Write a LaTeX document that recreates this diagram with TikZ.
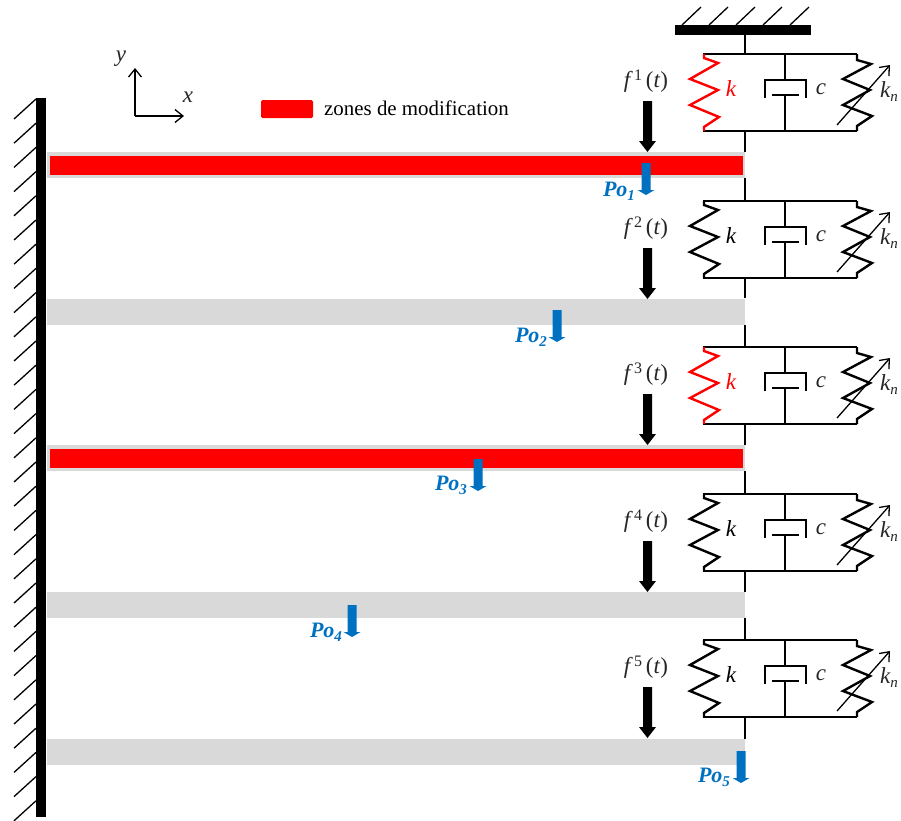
\documentclass[tikz,border=0pt]{standalone}
\usepackage{fontspec}
\setmainfont{Liberation Serif}
\usetikzlibrary{arrows.meta}
\definecolor{beamgrey}{HTML}{D9D9D9}
\definecolor{poblue}{HTML}{0070C0}
\tikzset{
  x=1pt,y=-1pt,
  beam/.style={fill=beamgrey,draw=none},
  zone/.style={fill=red,draw=none},
  wire/.style={draw=black,line width=2.4pt,line join=miter},
  hatch/.style={draw=black,line width=1.3pt},
  thinarrow/.style={draw=black,line width=1.3pt,-{Straight Barb[length=8pt,width=13pt,line width=1.3pt]}},
  mathlab/.style={font=\fontsize{23}{23}\selectfont\itshape,inner sep=0pt,text=black!85},
  polab/.style={font=\fontsize{22}{22}\selectfont\bfseries\itshape,inner sep=0pt,text=poblue},
}
\newcommand{\forcearrow}[3]{%
  \fill[#3] (#1-4.5,#2) -- (#1+4.5,#2) -- (#1+4.5,#2+40) -- (#1+8.5,#2+40) -- (#1,#2+51) -- (#1-8.5,#2+40) -- (#1-4.5,#2+40) -- cycle;}
\newcommand{\poarrow}[2]{%
  \fill[poblue] (#1-4.5,#2) -- (#1+4.5,#2) -- (#1+4.5,#2+27) -- (#1+8.5,#2+27) -- (#1,#2+32) -- (#1-8.5,#2+27) -- (#1-4.5,#2+27) -- cycle;}
\newcommand{\lowidx}[2]{\raisebox{-#2}{\fontsize{15}{15}\selectfont #1}}
\newcommand{\highidx}[1]{\raisebox{7pt}{\fontsize{16}{16}\selectfont\upshape #1}}
\begin{document}
\begin{tikzpicture}
\useasboundingbox (0,0) rectangle (901,820);
% beams
\foreach \n/\y in {1/152,2/298.5,3/445,4/592,5/739}{
  \fill[beam] (47,\y) rectangle (745,\y+26);
}
\fill[zone] (49.5,155.5) rectangle (743,174.5);
\fill[zone] (49.5,448.5) rectangle (743,467.5);
% left wall
\fill[black] (36,98) rectangle (46,817);
\foreach \i in {0,...,29}{
  \draw[hatch] (36,99+24.2*\i) -- (14,119+24.2*\i);
}
% top support
\fill[black] (675,25) rectangle (811,35);
\foreach \i in {0,...,4}{
  \draw[hatch] (682+27*\i,25) -- (701+27*\i,7);
}
\coordinate (anchor) at (745,35);
% axes
\coordinate (origin) at (135,116);
\coordinate (xend) at (184,116);
\coordinate (yend) at (135,68);
\draw[thinarrow] (origin) -- (xend);
\draw[thinarrow] (origin) -- (yend);
\node[mathlab] (xlab) at (188,97) {x};
\node[mathlab] (ylab) at (121,59) {y};
% legend
\fill[zone,rounded corners=1.5pt] (261,100) rectangle (313,118);
\node[anchor=west,inner sep=0pt,font=\fontsize{20.9}{20.9}\selectfont] (legend) at (324,108) {zones de modification};
% spring-damper units
\foreach \n/\o/\kc in {1/0/red,2/147/black,3/293/red,4/440/black,5/586/black}{
  \begin{scope}[yshift=-\o pt]
    \coordinate (t\n) at (745,54);
    \coordinate (b\n) at (745,131);
    \draw[wire] (703,54) -- (857,54);
    \draw[wire] (703,131) -- (857,131);
    % linear spring
    \draw[wire,draw=\kc] (704,54) -- (704,58) -- (718,63) -- (690,79) -- (718,90) -- (690,105) -- (719,117) -- (704,127) -- (704,131);
    \node[mathlab,text=\kc] (k\n) at (731,89) {k};
    % damper
    \draw[wire] (785,54) -- (785,80);
    \draw[wire] (765,98) -- (765,80) -- (806,80) -- (806,98);
    \draw[wire] (772,95) -- (799,95);
    \draw[wire] (785,95) -- (785,131);
    \node[mathlab] (c\n) at (821,89) {c};
    % nonlinear spring
    \draw[wire] (857,54) -- (857,60) -- (871,64) -- (843,79) -- (870,90) -- (843,105) -- (872,116) -- (857,126) -- (857,131);
    \draw[thinarrow] (837,125) -- (890,65);
    \node[mathlab] (kn\n) at (889,92) {k\lowidx{n}{4pt}};
    % force
    \forcearrow{647.5}{101}{black}
    \node[mathlab] (f\n) at (646,81) {f\,\highidx{\n}\,\textup{(}t\textup{)}};
  \end{scope}
}
% connections along the central rod
\draw[wire] (anchor) -- (t1);
\draw[wire] (b1) -- (745,152);
\draw[wire] (745,178) -- (t2);
\draw[wire] (b2) -- (745,298);
\draw[wire] (745,325) -- (t3);
\draw[wire] (b3) -- (745,445);
\draw[wire] (745,471) -- (t4);
\draw[wire] (b4) -- (745,592);
\draw[wire] (745,618) -- (t5);
\draw[wire] (b5) -- (745,739);
% observation points
\poarrow{646}{163}
\poarrow{557}{310}
\poarrow{478}{459}
\poarrow{352}{605}
\poarrow{741}{751}
\node[polab] (p1) at (619,191) {Po\lowidx{1}{4pt}};
\node[polab] (p2) at (531,337) {Po\lowidx{2}{4pt}};
\node[polab] (p3) at (451,485) {Po\lowidx{3}{4pt}};
\node[polab] (p4) at (326,632) {Po\lowidx{4}{4pt}};
\node[polab] (p5) at (714,777) {Po\lowidx{5}{4pt}};
\end{tikzpicture}
\end{document}
